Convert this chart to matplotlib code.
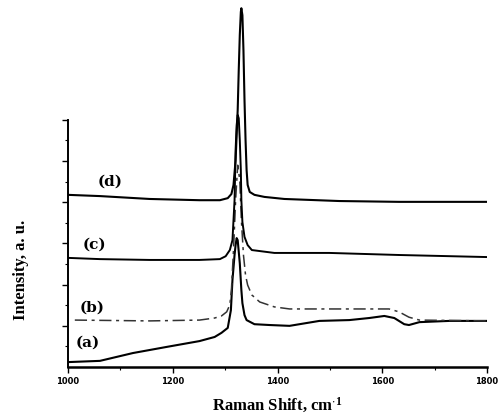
import matplotlib
matplotlib.use("Agg")
import matplotlib.pyplot as plt
from matplotlib.ticker import FixedLocator

plt.rcParams["mathtext.default"] = "regular"

# Raman shift (cm^-1) and intensity (a.u.)
xd = [1000, 1061, 1156, 1251, 1290, 1305, 1312, 1316, 1320, 1324, 1326, 1328, 1330, 1331,
      1333, 1335, 1337, 1339, 1341, 1343, 1347, 1356, 1375, 1413, 1518, 1632, 1800]
yd = [4.18, 4.15, 4.08, 4.05, 4.05, 4.10, 4.20, 4.42, 5.02, 6.24, 7.21, 8.06, 8.62, 8.71,
      8.54, 7.69, 6.48, 5.51, 4.78, 4.42, 4.25, 4.18, 4.13, 4.08, 4.03, 4.01, 4.01]

xc = [1000, 1061, 1156, 1251, 1290, 1301, 1309, 1314, 1318, 1320, 1322, 1324, 1326, 1328,
      1330, 1331, 1333, 1337, 1343, 1351, 1394, 1499, 1632, 1800]
yc = [2.65, 2.62, 2.60, 2.60, 2.62, 2.69, 2.84, 3.08, 4.05, 5.27, 5.87, 6.12, 6.04, 5.51,
      4.78, 4.05, 3.52, 3.16, 2.96, 2.84, 2.77, 2.77, 2.72, 2.67]

xb = [1013, 1156, 1251, 1280, 1293, 1303, 1309, 1312, 1316, 1320, 1324, 1328, 1331, 1335,
      1339, 1343, 1351, 1366, 1394, 1423, 1613, 1632, 1651, 1671, 1800]
yb = [1.14, 1.12, 1.14, 1.19, 1.24, 1.34, 1.51, 1.87, 2.84, 4.05, 4.90, 4.54, 3.57, 2.72,
      2.23, 1.99, 1.75, 1.58, 1.46, 1.41, 1.41, 1.34, 1.21, 1.14, 1.12]

xa = [1000, 1061, 1124, 1189, 1251, 1280, 1293, 1305, 1311, 1314, 1318, 1320, 1322, 1324,
      1328, 1331, 1333, 1337, 1341, 1356, 1385, 1423, 1480, 1537, 1575, 1604, 1623, 1642,
      1651, 1671, 1728, 1800]
ya = [0.12, 0.15, 0.34, 0.49, 0.63, 0.73, 0.83, 0.95, 1.38, 2.11, 2.72, 2.96, 3.13, 3.08,
      2.52, 1.87, 1.55, 1.26, 1.14, 1.04, 1.02, 1.00, 1.12, 1.14, 1.19, 1.24, 1.19, 1.04,
      1.02, 1.09, 1.12, 1.12]

xticks = [1000, 1200, 1400, 1600, 1800]
labels = ["(a)", "(b)", "(c)", "(d)"]
label_pos = [(1038, 0.58), (1046, 1.43), (1051, 2.96), (1080, 4.49)]

fig = plt.figure(figsize=(5.0, 4.19), dpi=100)
ax = fig.add_axes([0.136, 0.124, 0.838, 0.876])

ax.plot(xa, ya, color="black", lw=1.5)
ax.plot(xb, yb, color="#333333", lw=1.1, dashes=(8, 3, 2, 3))
ax.plot(xc, yc, color="black", lw=1.4)
ax.plot(xd, yd, color="black", lw=1.5)

ax.set_xlim(1000, 1800)
ax.set_ylim(0, 8.91)
ax.spines["top"].set_visible(False)
ax.spines["right"].set_visible(False)
ax.spines["left"].set_bounds(0, 6)
ax.spines["left"].set_linewidth(1.4)
ax.spines["bottom"].set_linewidth(1.8)

ax.set_xticks(xticks)
ax.set_xticklabels([str(t) for t in xticks], fontsize=6, fontweight="bold",
                   family="DejaVu Sans")
ax.xaxis.set_minor_locator(FixedLocator([1100, 1300, 1500, 1700]))
ax.set_yticks([1, 2, 3, 4, 5, 6])
ax.set_yticklabels([])
ax.yaxis.set_minor_locator(FixedLocator([0.5, 1.5, 2.5, 3.5, 4.5, 5.5]))
ax.tick_params(axis="both", which="major", length=4, width=1.0, direction="out")
ax.tick_params(axis="both", which="minor", length=2, width=0.8, direction="out")
ax.tick_params(axis="x", pad=3)

for lab, (lx, ly) in zip(labels, label_pos):
    ax.text(lx, ly, lab, fontsize=11, fontweight="bold", family="DejaVu Serif",
            ha="center", va="center")

fig.text(0.554, 0.033, r"Raman Shift, cm$^{\cdot 1}$", fontsize=12, fontweight="bold",
         family="Liberation Serif", ha="center", va="center")
fig.text(0.042, 0.355, "Intensity, a. u.", fontsize=12, fontweight="bold",
         family="Liberation Serif", ha="center", va="center", rotation=90)

fig.savefig("out.png", dpi=100)
